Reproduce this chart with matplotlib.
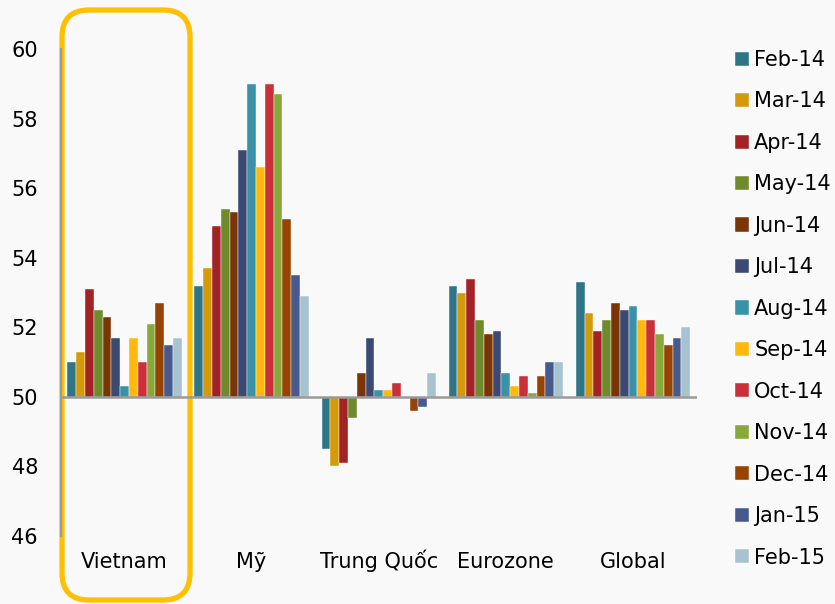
import matplotlib.pyplot as plt
import numpy as np
from matplotlib.patches import FancyBboxPatch

regions = ['Vietnam', 'Mỹ', 'Trung Quốc', 'Eurozone', 'Global']
months = ['Feb-14', 'Mar-14', 'Apr-14', 'May-14', 'Jun-14', 'Jul-14', 'Aug-14',
          'Sep-14', 'Oct-14', 'Nov-14', 'Dec-14', 'Jan-15', 'Feb-15']

# PMI readings per region, one value per month
vietnam = [51.0, 51.3, 53.1, 52.5, 52.3, 51.7, 50.3, 51.7, 51.0, 52.1, 52.7, 51.5, 51.7]
my = [53.2, 53.7, 54.9, 55.4, 55.3, 57.1, 59.0, 56.6, 59.0, 58.7, 55.1, 53.5, 52.9]
trung_quoc = [48.5, 48.0, 48.1, 49.4, 50.7, 51.7, 50.2, 50.2, 50.4, 50.0, 49.6, 49.7, 50.7]
eurozone = [53.2, 53.0, 53.4, 52.2, 51.8, 51.9, 50.7, 50.3, 50.6, 50.1, 50.6, 51.0, 51.0]
global_pmi = [53.3, 52.4, 51.9, 52.2, 52.7, 52.5, 52.6, 52.2, 52.2, 51.8, 51.5, 51.7, 52.0]

colors = ['#2e7588', '#d49a0a', '#a32226', '#6e8a2b', '#7a3406', '#3b4a73', '#3a92a8',
          '#ffb80e', '#c9303a', '#88a83a', '#954404', '#465a8d', '#a7c3cf']

data = np.array([vietnam, my, trung_quoc, eurozone, global_pmi])

W, H = 835, 604
fig = plt.figure(figsize=(W / 100, H / 100), dpi=100, facecolor='#f9f9fa')
ax = fig.add_axes([61 / W, 1 - 536 / H, (696.5 - 61) / W, (536 - 49) / H])
ax.set_facecolor('none')

x = np.arange(len(regions))
w = 0.9 / len(months)
for i, (m, c) in enumerate(zip(months, colors)):
    vals = data[:, i]
    ax.bar(x - 0.45 + w * (i + 0.5), vals - 50, width=w, bottom=50,
           color=c, label=m, edgecolor='white', linewidth=0.3)

ax.axhline(50, color='#9a9a9a', lw=1.8, zorder=3)

ax.set_xlim(-0.5, 4.5)
ax.set_ylim(46, 60)
for s in ['top', 'right', 'bottom']:
    ax.spines[s].set_visible(False)
ax.spines['left'].set_color('#9a9a9a')
ax.spines['left'].set_linewidth(1.5)

ax.set_yticks(np.arange(46, 61, 2))
ax.set_xticks(x)
ax.set_xticklabels(regions, va='baseline')
ax.tick_params(axis='y', length=0, pad=16.5, labelsize=15)
ax.tick_params(axis='x', length=0, pad=23, labelsize=15)

ax.legend(loc='upper left', bbox_to_anchor=(735 / W, 1 - 50 / H),
          bbox_transform=fig.transFigure, frameon=False, fontsize=15,
          handlelength=0.67, handleheight=0.67, handletextpad=0.25,
          labelspacing=1.03, borderpad=0, borderaxespad=0)

# highlight box around the Vietnam group
box = FancyBboxPatch((0.62, 0.04), 1.28, 5.90,
                     boxstyle='round,pad=0,rounding_size=0.27',
                     transform=fig.dpi_scale_trans, fc='none',
                     ec='#ffc000', lw=3.8, zorder=-1)
fig.patches.append(box)

fig.savefig('out.png', dpi=100, facecolor=fig.get_facecolor())
